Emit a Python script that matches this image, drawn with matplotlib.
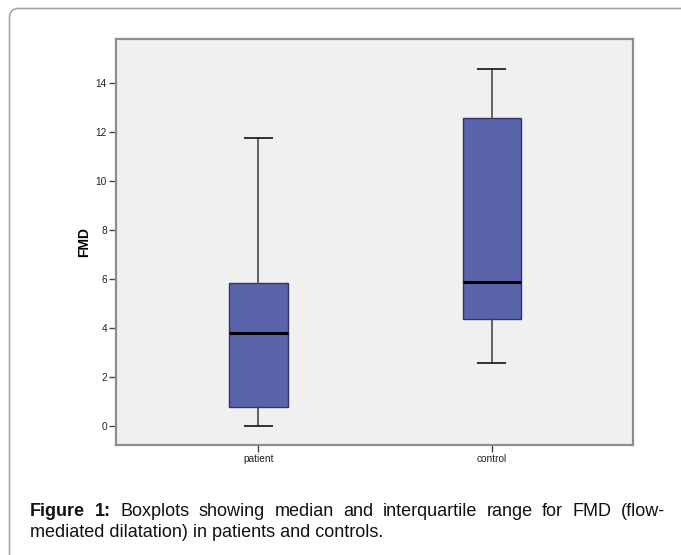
import matplotlib
matplotlib.use("Agg")
import matplotlib.pyplot as plt
from matplotlib.patches import FancyBboxPatch
from matplotlib.transforms import IdentityTransform

# box statistics
groups = ["patient", "control"]
q1 = [0.78, 4.35]
median = [3.80, 5.88]
q3 = [5.84, 12.56]
whisker_low = [0.0, 2.56]
whisker_high = [11.76, 14.56]
yticks = [0, 2, 4, 6, 8, 10, 12, 14]

plt.rcParams['font.family'] = ['Liberation Sans', 'DejaVu Sans']

W, H = 681, 555
fig = plt.figure(figsize=(W / 100, H / 100), dpi=100)

# outer frame with rounded top-left corner (right/bottom run off the page)
frame = FancyBboxPatch((9.5, -40), 720, H - 8.5 + 40,
                       boxstyle="round,pad=0,rounding_size=9",
                       transform=IdentityTransform(), fill=False,
                       edgecolor="#a6a6a6", linewidth=1.2)
fig.add_artist(frame)

ax = fig.add_axes([116 / W, 1 - 445 / H, (633 - 116) / W, (445 - 39.3) / H])
ax.set_facecolor("#f0f0f0")

stats = []
for i in range(len(groups)):
    stats.append(dict(label=groups[i], q1=q1[i], med=median[i], q3=q3[i],
                      whislo=whisker_low[i], whishi=whisker_high[i], fliers=[]))

ax.bxp(stats, positions=[1, 2], widths=0.25, patch_artist=True, showfliers=False,
       boxprops=dict(facecolor="#5a64aa", edgecolor="#2e3470", linewidth=1.0),
       medianprops=dict(color="black", linewidth=2.2),
       whiskerprops=dict(color="#555555", linewidth=1.3),
       capprops=dict(color="#222222", linewidth=1.3, solid_capstyle="butt"),
       capwidths=0.125)

ax.set_xlim(0.39, 2.605)
ax.set_ylim(-0.78, 15.78)
ax.set_yticks(yticks)
ax.set_yticklabels([str(t) for t in yticks])
ax.set_xticks([1, 2])
ax.set_xticklabels(groups)
ax.tick_params(axis="both", labelsize=7.3, length=5, width=1.0,
               color="#444444", labelcolor="#222222", pad=1.5)
for s in ax.spines.values():
    s.set_color("#8c8c8c")
    s.set_linewidth(1.6)
ax.set_ylabel("FMD", fontsize=10, fontweight="bold")
ax.yaxis.set_label_coords(-0.049, 0.5)

# caption, first line justified between x=30 and x=665 px
fs = 13
renderer = fig.canvas.get_renderer()
line1 = [("Figure", "bold"), ("1:", "bold"), ("Boxplots", "normal"), ("showing", "normal"),
         ("median", "normal"), ("and", "normal"), ("interquartile", "normal"),
         ("range", "normal"), ("for", "normal"), ("FMD", "normal"), ("(flow-", "normal")]
x_left, x_right = 30, 665
y1 = H - 516
widths = []
texts = []
for w, weight in line1:
    t = fig.text(0, y1 / H, w, fontsize=fs, fontweight=weight, color="#111111",
                 ha="left", va="baseline")
    widths.append(t.get_window_extent(renderer).width)
    texts.append(t)
gap = (x_right - x_left - sum(widths)) / (len(line1) - 1)
x = x_left
for t, wd in zip(texts, widths):
    t.set_x(x / W)
    x += wd + gap

fig.text(x_left / W, (H - 537) / H, "mediated dilatation) in patients and controls.",
         fontsize=fs, color="#111111", ha="left", va="baseline")

fig.savefig("out.png", dpi=100)
